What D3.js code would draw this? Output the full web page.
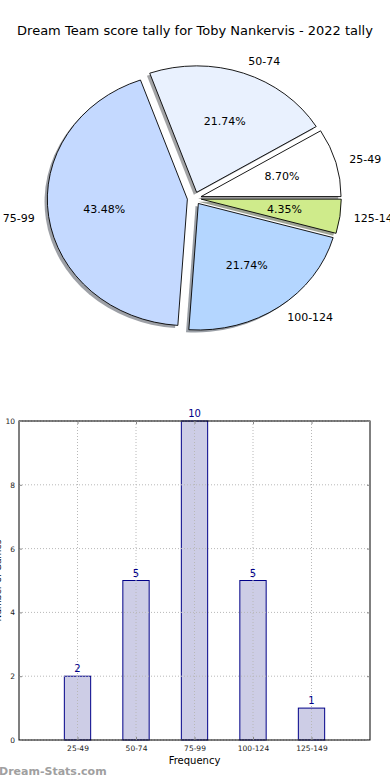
<!DOCTYPE html>
<html><head><meta charset="utf-8">
<script src="https://cdn.jsdelivr.net/npm/d3@7"></script>
<style>body{margin:0;background:#fff}svg{display:block;font-family:"DejaVu Sans",sans-serif}</style>
</head><body><svg id="c" width="390" height="780"></svg>
<script>
const title = "Dream Team score tally for Toby Nankervis - 2022 tally";
const categories = ["25-49","50-74","75-99","100-124","125-149"];
const counts = [2,5,10,5,1];
const pieColors = ["#ffffff","#e9f1fe","#c4d9ff","#b4d6ff","#cfeb8b"];
const yTicks = [0,2,4,6,8,10];
const xLabel = "Frequency";
const yLabel = "Number of Games";
const watermark = "Dream-Stats.com";

const svg = d3.select("#c");
svg.append("text").attr("x",195).attr("y",35).attr("text-anchor","middle")
  .attr("font-size",13).attr("fill","#000").text(title);

// ---- Pie ----
const cx=194.3, cy=198.3, rx=140, ry=126.5, explode=0.05, shadowOff=0.02;
const total=d3.sum(counts);
const pie=d3.pie().sort(null).startAngle(Math.PI/2).endAngle(Math.PI/2-2*Math.PI);
const arcs=pie(counts);
const arc=d3.arc().innerRadius(0).outerRadius(1);
const pg=svg.append("g");
function off(d){const m=(d.startAngle+d.endAngle)/2;return [cx+explode*rx*Math.sin(m), cy-explode*ry*Math.cos(m), m];}
pg.selectAll("path.sh").data(arcs).join("path").attr("class","sh")
  .attr("d",arc)
  .attr("transform",d=>{const [x,y]=off(d);return `translate(${x-shadowOff*rx},${y+shadowOff*ry}) scale(${rx},${ry})`;})
  .attr("fill",(d,i)=>{const c=d3.rgb(pieColors[i]);return d3.rgb(c.r*0.3,c.g*0.3,c.b*0.3).toString();})
  .attr("fill-opacity",0.5);
pg.selectAll("path.w").data(arcs).join("path").attr("class","w")
  .attr("d",arc)
  .attr("transform",d=>{const [x,y]=off(d);return `translate(${x},${y}) scale(${rx},${ry})`;})
  .attr("fill",(d,i)=>pieColors[i]).attr("stroke","#000").attr("stroke-width",0.9)
  .attr("vector-effect","non-scaling-stroke");
arcs.forEach((d,i)=>{
  const [x,y,m]=off(d);
  const lx=x+1.1*rx*Math.sin(m), ly=y-1.1*ry*Math.cos(m);
  pg.append("text").attr("x",lx).attr("y",ly).attr("dy","0.35em")
    .attr("text-anchor",Math.sin(m)>=0?"start":"end").attr("font-size",11).text(categories[i]);
  const px=x+0.6*rx*Math.sin(m), py=y-0.6*ry*Math.cos(m);
  pg.append("text").attr("x",px).attr("y",py).attr("dy","0.35em")
    .attr("text-anchor","middle").attr("font-size",11).text((counts[i]/total*100).toFixed(2)+"%");
});

// ---- Bar chart ----
const L=19,R=370,T=421,B=740;
const x=d3.scaleLinear().domain([0,categories.length+1]).range([L,R]);
const y=d3.scaleLinear().domain([0,10]).range([B,T]);
const bw=0.45;
svg.append("g").selectAll("rect").data(counts).join("rect")
  .attr("x",(d,i)=>x(i+1-bw/2)).attr("width",x(bw)-x(0))
  .attr("y",d=>y(d)).attr("height",d=>y(0)-y(d))
  .attr("fill","#cdcde6").attr("stroke","#000088").attr("stroke-width",1);
const gg=svg.append("g").attr("stroke","#b8b8b8").attr("stroke-width",1).attr("stroke-dasharray","1,2");
gg.selectAll("line.v").data(categories).join("line").attr("class","v")
  .attr("x1",(d,i)=>x(i+1)).attr("x2",(d,i)=>x(i+1)).attr("y1",T).attr("y2",B);
gg.selectAll("line.h").data(yTicks).join("line").attr("class","h")
  .attr("x1",L).attr("x2",R).attr("y1",d=>y(d)).attr("y2",d=>y(d));
svg.append("rect").attr("x",L).attr("y",T).attr("width",R-L).attr("height",B-T)
  .attr("fill","none").attr("stroke","#000").attr("stroke-width",1);
const ya=svg.append("g").attr("transform",`translate(${L},0)`)
  .call(d3.axisLeft(y).tickValues(yTicks).tickSizeInner(-3).tickSizeOuter(0).tickPadding(4));
ya.select(".domain").remove();
ya.selectAll("text").attr("font-size",7.5).attr("font-family","DejaVu Sans").attr("fill","#222");
ya.selectAll("line").attr("stroke","#888");
const yr=svg.append("g").attr("transform",`translate(${R},0)`)
  .call(d3.axisRight(y).tickValues(yTicks).tickSizeInner(-3).tickSizeOuter(0).tickFormat(""));
yr.select(".domain").remove(); yr.selectAll("line").attr("stroke","#888");
const xa=svg.append("g").attr("transform",`translate(0,${B})`)
  .call(d3.axisBottom(x).tickValues(d3.range(1,categories.length+1)).tickFormat(d=>categories[d-1])
  .tickSizeInner(-3).tickSizeOuter(0).tickPadding(6));
xa.select(".domain").remove();
xa.selectAll("text").attr("font-size",7.5).attr("font-family","DejaVu Sans").attr("fill","#222");
xa.selectAll("line").attr("stroke","#888");
const xt=svg.append("g").attr("transform",`translate(0,${T})`)
  .call(d3.axisTop(x).tickValues(d3.range(1,categories.length+1)).tickFormat("").tickSizeInner(-3).tickSizeOuter(0));
xt.select(".domain").remove(); xt.selectAll("line").attr("stroke","#888");
svg.append("g").selectAll("text").data(counts).join("text")
  .attr("x",(d,i)=>x(i+1)).attr("y",d=>y(d)-4).attr("text-anchor","middle")
  .attr("font-size",10).attr("fill","#000088").text(d=>d);
svg.append("text").attr("x",(L+R)/2).attr("y",764).attr("text-anchor","middle")
  .attr("font-size",10).text(xLabel);
svg.append("text").attr("transform",`translate(1,${(T+B)/2}) rotate(-90)`).attr("text-anchor","middle")
  .attr("font-size",9).text(yLabel);
svg.append("text").attr("x",-1).attr("y",775).attr("font-size",11).attr("font-weight","bold")
  .attr("fill","#a0a0a0").text(watermark);
</script></body></html>
